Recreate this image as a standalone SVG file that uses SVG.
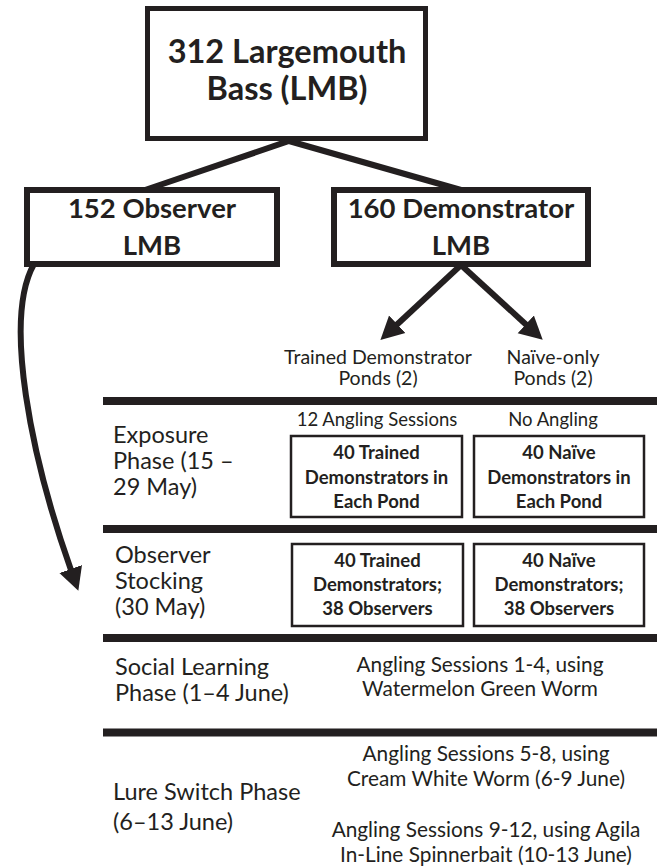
<svg xmlns="http://www.w3.org/2000/svg" width="657" height="868" viewBox="0 0 657 868">
<style>
text{font-family:Lato,"Open Sans","Liberation Sans",sans-serif;fill:#231f20}
.b{font-weight:700}
.c{text-anchor:middle}
.big{font-size:32.5px}
.mid{font-size:27.5px}
.reg{font-size:19.5px}
.sm{font-size:18.5px}
.rt{font-size:20.8px}
.lab{font-size:23.5px}
.bx{font-size:18.5px}
.thick{fill:none;stroke:#231f20;stroke-width:5}
.box2{fill:none;stroke:#231f20;stroke-width:2.5}
.conn{fill:none;stroke:#231f20;stroke-width:6}
.rule{stroke:#231f20;stroke-width:8}
</style>
<defs>
<marker id="ah" markerUnits="userSpaceOnUse" markerWidth="30" markerHeight="30" viewBox="0 0 30 30" refX="1" refY="15" orient="auto">
<path d="M0,3 L23,15 L0,27 z" fill="#231f20"/>
</marker>
</defs>

<g id="connectors">
<path class="conn" d="M145 190 L289 141 L461 190"/>
<path class="conn" d="M461 265 L396.5 325" marker-end="url(#ah)"/>
<path class="conn" d="M461 265 L526.5 325" marker-end="url(#ah)"/>
<path class="conn" d="M34 264 C 3 319, 31 457, 71 570" marker-end="url(#ah)"/>
</g>

<g id="lmb-total">
<rect class="thick" x="147.5" y="8.5" width="278" height="130"/>
<text class="b big c" x="287" y="63">312 Largemouth</text>
<text class="b big c" x="287" y="100">Bass (LMB)</text>
</g>

<g id="observer-lmb">
<rect class="conn" x="27" y="190" width="250" height="74"/>
<text class="b mid c" x="152" y="218">152 Observer</text>
<text class="b mid c" x="152" y="255">LMB</text>
</g>

<g id="demonstrator-lmb">
<rect class="conn" x="334" y="190" width="254" height="74"/>
<text class="b mid c" x="461" y="218">160 Demonstrator</text>
<text class="b mid c" x="461" y="255">LMB</text>
</g>

<g id="header-trained">
<text class="reg c" x="378" y="364">Trained Demonstrator</text>
<text class="reg c" x="378" y="385">Ponds (2)</text>
</g>
<g id="header-naive">
<text class="reg c" x="553" y="364">Naïve-only</text>
<text class="reg c" x="553" y="385">Ponds (2)</text>
</g>

<g id="rules">
<line class="rule" x1="103" y1="401" x2="657" y2="401"/>
<line class="rule" x1="103" y1="529" x2="657" y2="529"/>
<line class="rule" x1="103" y1="638" x2="657" y2="638"/>
<line class="rule" x1="103" y1="732.5" x2="657" y2="732.5"/>
</g>

<g id="exposure-phase">
<text class="lab" x="113" y="443">Exposure</text>
<text class="lab" x="113" y="469">Phase (15 –</text>
<text class="lab" x="113" y="495">29 May)</text>
</g>
<g id="exposure-trained">
<text class="sm c" x="377" y="426">12 Angling Sessions</text>
<rect class="box2" x="291" y="436" width="171" height="81"/>
<text class="b bx c" x="376.5" y="459">40 Trained</text>
<text class="b bx c" x="376.5" y="483.5">Demonstrators in</text>
<text class="b bx c" x="376.5" y="508">Each Pond</text>
</g>
<g id="exposure-naive">
<text class="sm c" x="553" y="426">No Angling</text>
<rect class="box2" x="474" y="436" width="170" height="81"/>
<text class="b bx c" x="559" y="459">40 Naïve</text>
<text class="b bx c" x="559" y="483.5">Demonstrators in</text>
<text class="b bx c" x="559" y="508">Each Pond</text>
</g>

<g id="observer-stocking">
<text class="lab" x="115" y="563">Observer</text>
<text class="lab" x="115" y="589">Stocking</text>
<text class="lab" x="115" y="615">(30 May)</text>
</g>
<g id="stocking-trained">
<rect class="box2" x="292" y="544" width="171" height="82"/>
<text class="b bx c" x="377.5" y="567">40 Trained</text>
<text class="b bx c" x="377.5" y="591">Demonstrators;</text>
<text class="b bx c" x="377.5" y="615">38 Observers</text>
</g>
<g id="stocking-naive">
<rect class="box2" x="474" y="544" width="170" height="82"/>
<text class="b bx c" x="559" y="567">40 Naïve</text>
<text class="b bx c" x="559" y="591">Demonstrators;</text>
<text class="b bx c" x="559" y="615">38 Observers</text>
</g>

<g id="social-learning">
<text class="lab" x="115" y="675">Social Learning</text>
<text class="lab" x="115" y="701">Phase (1–4 June)</text>
<text class="rt c" x="480" y="672">Angling Sessions 1-4, using</text>
<text class="rt c" x="480" y="696">Watermelon Green Worm</text>
</g>

<g id="lure-switch">
<text class="lab" x="113" y="800">Lure Switch Phase</text>
<text class="lab" x="113" y="830">(6–13 June)</text>
<text class="rt c" x="486" y="761">Angling Sessions 5-8, using</text>
<text class="rt c" x="486" y="786">Cream White Worm (6-9 June)</text>
<text class="rt c" x="486" y="837">Angling Sessions 9-12, using Agila</text>
<text class="rt c" x="486" y="862">In-Line Spinnerbait (10-13 June)</text>
</g>
</svg>
